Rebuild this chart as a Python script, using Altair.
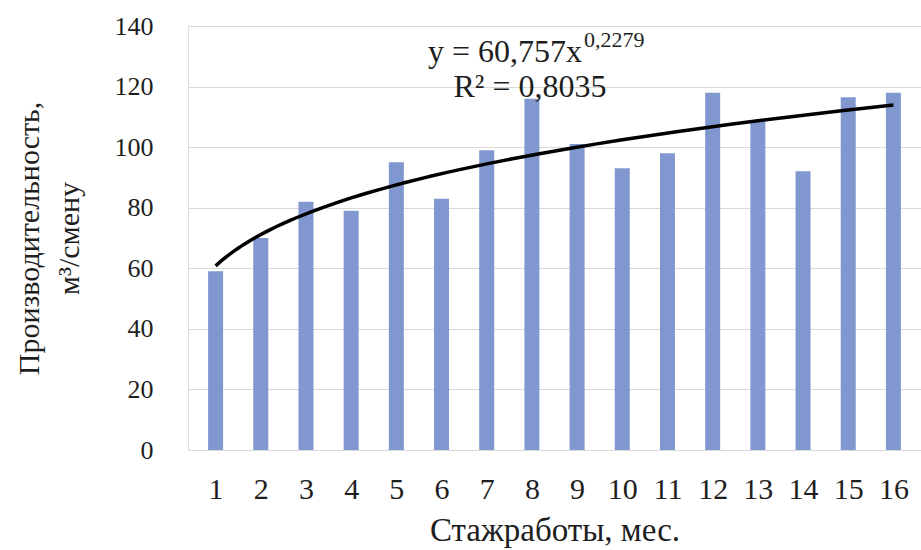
import altair as alt
import pandas as pd

months = list(range(1, 17))
productivity = [59, 70, 82, 79, 95, 83, 99, 116, 101, 93, 98, 118, 109, 92, 116.5, 118]

eq_main = "y = 60,757x"
eq_exp = "0,2279"
r2_text = "R² = 0,8035"

df = pd.DataFrame({"month": months, "value": productivity})

FONT = "Liberation Serif"
TXT = "#1e1e1e"
x_enc = alt.X("month:Q",
              scale=alt.Scale(domain=[0.5, 16.5], nice=False, zero=False),
              axis=alt.Axis(values=months, title="Стажработы, мес.", grid=False, ticks=False,
                            domain=False, labelFontSize=30, labelPadding=24, labelFont=FONT,
                            labelColor=TXT, titleFont=FONT, titleFontSize=33,
                            titleFontWeight="normal", titleColor=TXT, titlePadding=10))
y_enc = alt.Y("value:Q",
              scale=alt.Scale(domain=[0, 140], nice=False),
              axis=alt.Axis(values=[0, 20, 40, 60, 80, 100, 120, 140],
                            title=["Производительность,", "м³/смену"],
                            ticks=False, domain=False, gridColor="#d9d9d9", gridWidth=1,
                            labelFontSize=26, labelPadding=35, labelFont=FONT, labelColor=TXT,
                            titleFont=FONT, titleFontSize=30, titleFontWeight="normal",
                            titleColor=TXT, titlePadding=30, titleLineHeight=40))

bars = alt.Chart(df).mark_bar(size=15, color="#8097D0").encode(x=x_enc, y=y_enc)

trend = alt.Chart(df).transform_regression("month", "value", method="pow").mark_line(
    color="black", strokeWidth=3.5).encode(x="month:Q", y="value:Q")

ann = pd.DataFrame({"a": [1]})
t1 = alt.Chart(ann).mark_text(font=FONT, fontSize=32, color=TXT, align="right", baseline="alphabetic").encode(
    x=alt.value(394), y=alt.value(36), text=alt.value(eq_main))
t2 = alt.Chart(ann).mark_text(font=FONT, fontSize=22, color=TXT, align="left", baseline="alphabetic").encode(
    x=alt.value(396), y=alt.value(21), text=alt.value(eq_exp))
t3 = alt.Chart(ann).mark_text(font=FONT, fontSize=32, color=TXT, align="center", baseline="alphabetic").encode(
    x=alt.value(342), y=alt.value(71), text=alt.value(r2_text))

chart = alt.layer(bars, trend, t1, t2, t3).properties(
    width=733, height=424,
    autosize=alt.AutoSizeParams(type="none"),
    padding={"left": 188, "top": 26, "right": 0, "bottom": 100},
).configure_view(stroke=None).configure(background="white")

chart.save("out.html", embed_options={"renderer": "svg", "actions": False})
